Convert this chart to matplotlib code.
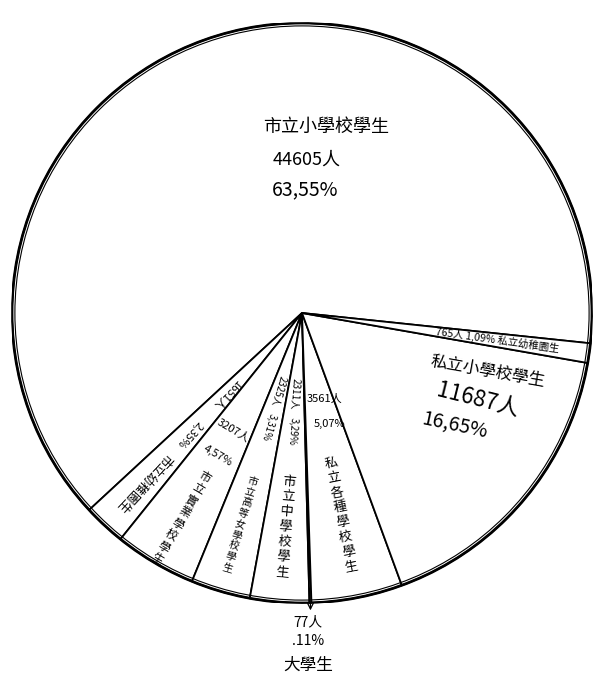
import numpy as np
import matplotlib
matplotlib.use('Agg')
import matplotlib.pyplot as plt
from matplotlib.patches import Circle

plt.rcParams['font.family'] = ['Noto Sans CJK TC', 'DejaVu Sans']

# Student counts by school type (order: counter-clockwise from the right)
labels = ['市立小學校學生', '市立幼稚園生', '市立實業學校學生', '市立高等女學校學生',
          '市立中學校學生', '大學生', '私立各種學校學生', '私立小學校學生', '私立幼稚園生']
counts = [44605, 1651, 3207, 2325, 2311, 77, 3561, 11687, 765]
pct_text = ['63,55%', '2,35%', '4,57%', '3,31%', '3,29%', '.11%', '5,07%', '16,65%', '1,09%']

fig = plt.figure(figsize=(5.97, 6.79), dpi=100)
ax = fig.add_axes([12 / 597, 76 / 679, 580 / 597, 580 / 679])

wedges, _ = ax.pie(counts, startangle=-6, counterclock=True, radius=1,
                   colors=['white'] * len(counts),
                   wedgeprops=dict(edgecolor='black', linewidth=1.3))
ax.set_xlim(-1, 1)
ax.set_ylim(-1, 1)
ax.set_aspect('equal')
ax.axis('off')

# hand drawn double outline
ax.add_patch(Circle((0, 0), 1.0, fill=False, lw=2.0, color='black'))
ax.add_patch(Circle((0, 0), 0.99, fill=False, lw=0.8, color='black'))

mids = [(w.theta1 + w.theta2) / 2 for w in wedges]


def polar(r, ang):
    a = np.deg2rad(ang)
    return r * np.cos(a), r * np.sin(a)


def column(r, i, text, fs, ls=1.15):
    x, y = polar(r, mids[i])
    ax.text(x, y, '\n'.join(text), ha='center', va='center', fontsize=fs,
            linespacing=ls, rotation=mids[i] - 270, rotation_mode='anchor')


# big wedge: 市立小學校學生
ax.text(0.083, 0.641, labels[0], ha='center', va='center', fontsize=13)
ax.text(-0.103, 0.528, f'{counts[0]}人', ha='left', va='center', fontsize=13)
ax.text(-0.103, 0.424, pct_text[0], ha='left', va='center', fontsize=14)

# 私立小學校學生
ax.text(0.641, -0.203, labels[7], ha='center', va='center', fontsize=12, rotation=-10)
ax.text(0.607, -0.30, f'{counts[7]}人', ha='center', va='center', fontsize=16, rotation=-14)
ax.text(0.528, -0.386, pct_text[7], ha='center', va='center', fontsize=14, rotation=-12)

# 私立幼稚園生 (thin wedge)
x, y = polar(0.68, mids[8])
ax.text(x, y, f'{counts[8]}人 {pct_text[8]} {labels[8]}', ha='center', va='center',
        fontsize=7.5, rotation=mids[8] - 360, rotation_mode='anchor')

# 私立各種學校學生
x, y = polar(0.30, mids[6])
ax.text(x + 0.02, y, f'{counts[6]}人', ha='center', va='center', fontsize=8)
x, y = polar(0.39, mids[6])
ax.text(x + 0.02, y, pct_text[6], ha='center', va='center', fontsize=8)
column(0.71, 6, labels[6], 9.5, 1.2)

# 大學生 below the circle with arrow
xb, yb = polar(1.0, mids[5])
ax.annotate('', xy=(xb, -1.035), xytext=(xb, -0.99),
            arrowprops=dict(arrowstyle='->', lw=0.9, color='black'),
            annotation_clip=False)
ax.text(0.02, -1.066, f'{counts[5]}人', ha='center', va='center', fontsize=10, clip_on=False)
ax.text(0.02, -1.131, pct_text[5], ha='center', va='center', fontsize=10, clip_on=False)
ax.text(0.02, -1.214, labels[5], ha='center', va='center', fontsize=12, clip_on=False)

# 市立幼稚園生 (written along the wedge, reading outward)
for r, s, fs in [(0.38, f'{counts[1]}人', 8), (0.57, pct_text[1], 8), (0.80, labels[1], 9)]:
    x, y = polar(r, mids[1])
    ax.text(x, y, s, ha='center', va='center', fontsize=fs,
            rotation=mids[1], rotation_mode='anchor')

# 市立實業學校學生
for r, s in [(0.47, f'{counts[2]}人'), (0.57, pct_text[2])]:
    x, y = polar(r, mids[2])
    ax.text(x, y, s, ha='center', va='center', fontsize=8,
            rotation=mids[2] - 270, rotation_mode='anchor')
column(0.82, 2, labels[2], 8.5, 1.05)

# 市立高等女學校學生 and 市立中學校學生
for i in (3, 4):
    for r, s in [(0.28, f'{counts[i]}人'), (0.41, pct_text[i])]:
        x, y = polar(r, mids[i])
        ax.text(x, y, s, ha='center', va='center', fontsize=7,
                rotation=mids[i], rotation_mode='anchor')
column(0.76, 3, labels[3], 7.5, 1.15)
column(0.74, 4, labels[4], 9.5, 1.2)

fig.savefig('out.png', dpi=100)
